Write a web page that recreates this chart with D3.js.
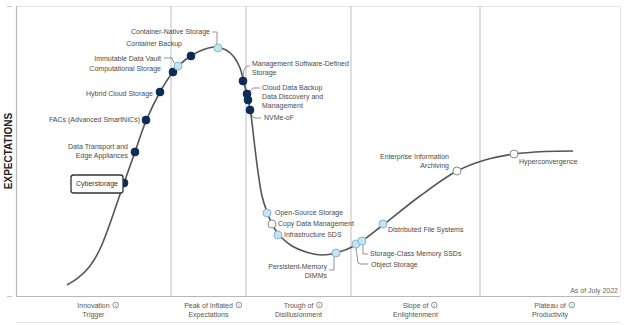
<!DOCTYPE html>
<html><head><meta charset="utf-8">
<script src="https://cdn.jsdelivr.net/npm/d3@7"></script>
<style>
html,body{margin:0;padding:0;background:#fff;}
svg{display:block;font-family:"Liberation Sans",Arial,sans-serif;}
</style>
</head><body>
<svg id="chart" width="631" height="325"></svg>
<script>
// ---------- DATA ----------
// Hype curve (time 0-100, expectations 0-100)
const curveX = [8.44,10.26,12.25,13.91,15.23,16.56,17.88,19.70,21.52,23.84,25.99,27.98,30.46,32.95,34.77,36.09,37.09,37.75,38.41,38.91,39.40,40.07,40.73,41.56,42.55,43.71,45.70,48.01,50.66,52.98,56.29,60.76,66.89,73.01,77.65,82.45,87.58,92.22];
const curveY = [3.79,6.21,10.34,16.21,23.10,31.03,38.97,49.66,60.34,70.34,77.24,81.38,84.48,85.86,84.83,82.41,78.62,73.45,67.93,62.41,53.79,42.76,34.48,28.97,24.14,20.69,17.24,15.17,14.14,14.83,17.59,24.48,34.48,43.10,46.90,48.97,49.83,50.00];

const techNames = ["Cyberstorage","Data Transport and Edge Appliances","FACs (Advanced SmartNICs)","Hybrid Cloud Storage","Computational Storage","Immutable Data Vault","Container Backup","Container-Native Storage","Management Software-Defined Storage","Cloud Data Backup","Data Discovery and Management","NVMe-oF","Open-Source Storage","Copy Data Management","Infrastructure SDS","Persistent-Memory DIMMs","Object Storage","Storage-Class Memory SSDs","Distributed File Systems","Enterprise Information Archiving","Hyperconvergence"];
const techX = [17.88,19.70,21.52,23.84,25.99,26.82,28.97,33.44,37.58,38.25,38.41,38.74,41.56,42.38,43.38,52.98,56.29,57.28,60.76,73.01,82.45];
const techY = [38.97,49.66,60.69,70.34,77.24,79.31,82.76,85.52,74.14,69.66,67.59,64.14,28.62,24.83,21.03,14.83,17.93,18.97,24.83,43.10,48.97];
// years to plateau: "<2" white, "2-5" light blue, "5-10" dark blue
const techPlateau = ["5-10","5-10","5-10","5-10","5-10","2-5","5-10","2-5","5-10","5-10","5-10","5-10","2-5","<2","2-5","2-5","2-5","2-5","2-5","<2","<2"];

const phaseNames = [["Innovation","Trigger"],["Peak of Inflated","Expectations"],["Trough of","Disillusionment"],["Slope of","Enlightenment"],["Plateau of","Productivity"]];
const phaseEnds = [25.66,38.08,55.46,76.82,100];

const yAxisTitle = "EXPECTATIONS";
const asOfText = "As of July 2022";

// ---------- LAYOUT / STYLE (kept separate from data) ----------
const W = 631, H = 325;
const plot = {left:16, right:620, top:6, bottom:296};
const fontSize = 7, lineH = 9;
const dotStyle = {
  "5-10": {fill:"#0c2b55", stroke:"#0c2b55", r:3.9},
  "2-5":  {fill:"#c5e3f1", stroke:"#86b7d1", r:4},
  "<2":   {fill:"#ffffff", stroke:"#8a8a8a", r:4}
};
const labelLayout = {
  "Cyberstorage": {anchor:"middle", dx:-27, dy:3.5, lines:["Cyberstorage"], box:[-53,-8,52,18]},
  "Data Transport and Edge Appliances": {anchor:"end", dx:-7, dy:-2.5, lines:["Data Transport and","Edge Appliances"]},
  "FACs (Advanced SmartNICs)": {anchor:"end", dx:-6, dy:2.5},
  "Hybrid Cloud Storage": {anchor:"end", dx:-7, dy:3.5},
  "Computational Storage": {anchor:"end", dx:-12, dy:-1.5},
  "Immutable Data Vault": {anchor:"end", dx:-17, dy:-5.5, leader:[[-14,-8],[-6,-8],[-4,-3]]},
  "Container Backup": {anchor:"end", dx:-9, dy:-9.5},
  "Container-Native Storage": {anchor:"end", dx:-8, dy:-13.5, leader:[[-6,-16],[-1,-16],[-1,-4]]},
  "Management Software-Defined Storage": {anchor:"start", dx:9, dy:-14.5, lines:["Management Software-Defined","Storage"], leader:[[0,-4],[1,-11],[4,-15],[7,-15]]},
  "Cloud Data Backup": {anchor:"start", dx:15, dy:-3.5, leader:[[3,-3],[6,-6],[13,-6]]},
  "Data Discovery and Management": {anchor:"start", dx:14, dy:-0.5, lines:["Data Discovery and","Management"]},
  "NVMe-oF": {anchor:"start", dx:14, dy:10.5, leader:[[1,4],[4,8],[11,8]]},
  "Open-Source Storage": {anchor:"start", dx:8, dy:1.5},
  "Copy Data Management": {anchor:"start", dx:6, dy:2.5},
  "Infrastructure SDS": {anchor:"start", dx:6, dy:2},
  "Persistent-Memory DIMMs": {anchor:"end", dx:-9, dy:16, lines:["Persistent-Memory","DIMMs"], leader:[[-2,4],[-2,17],[-7,17]]},
  "Object Storage": {anchor:"start", dx:15, dy:22.5, leader:[[0,4],[2,19],[4,20],[12,20]]},
  "Storage-Class Memory SSDs": {anchor:"start", dx:8, dy:15.5, leader:[[1,4],[1,13],[6,13]]},
  "Distributed File Systems": {anchor:"start", dx:5, dy:8.5},
  "Enterprise Information Archiving": {anchor:"end", dx:-8, dy:-12.5, lines:["Enterprise Information","Archiving"]},
  "Hyperconvergence": {anchor:"start", dx:5, dy:10.5}
};

// ---------- DRAW ----------
const svg = d3.select("#chart");
const x = d3.scaleLinear().domain([0,100]).range([plot.left, plot.right]);
const y = d3.scaleLinear().domain([0,100]).range([plot.bottom, plot.top]);

// bottom phase strip
svg.append("line").attr("x1",plot.left).attr("x2",plot.right).attr("y1",322.5).attr("y2",322.5)
  .attr("stroke","#e4e4e4").attr("stroke-width",1);

// frame
svg.append("line").attr("x1",plot.left).attr("x2",plot.right).attr("y1",plot.top+0.5).attr("y2",plot.top+0.5)
  .attr("stroke","#e6e6e6").attr("stroke-width",1);
svg.append("line").attr("x1",plot.right+0.5).attr("x2",plot.right+0.5).attr("y1",plot.top).attr("y2",plot.bottom)
  .attr("stroke","#e6e6e6").attr("stroke-width",1);

// phase dividers
const phaseStarts = [0].concat(phaseEnds.slice(0,-1));
svg.append("g").selectAll("line").data(phaseEnds.slice(0,-1)).join("line")
  .attr("x1",d=>x(d)).attr("x2",d=>x(d)).attr("y1",plot.top).attr("y2",plot.bottom)
  .attr("stroke","#cdcdcd").attr("stroke-width",1.3);

// axes
svg.append("line").attr("x1",plot.left+0.5).attr("x2",plot.left+0.5).attr("y1",plot.top).attr("y2",plot.bottom)
  .attr("stroke","#b8b8b8").attr("stroke-width",1.2);
svg.append("line").attr("x1",plot.left).attr("x2",plot.right).attr("y1",plot.bottom+0.5).attr("y2",plot.bottom+0.5)
  .attr("stroke","#b8b8b8").attr("stroke-width",1.2);
[plot.top+0.5, plot.bottom+0.5].forEach(v=>{
  svg.append("line").attr("x1",7).attr("x2",12).attr("y1",v).attr("y2",v).attr("stroke","#c4c4c4").attr("stroke-width",1);
});

// y title
svg.append("text").attr("transform",`translate(12,${(plot.top+plot.bottom)/2}) rotate(-90)`)
  .attr("text-anchor","middle").attr("font-size",10).attr("font-weight","bold").attr("fill","#222")
  .text(yAxisTitle);

// phase labels
phaseNames.forEach((lines,i)=>{
  const cx = (x(phaseStarts[i]) + x(phaseEnds[i]))/2;
  const g = svg.append("g");
  const t1 = g.append("text").attr("x",cx).attr("y",307.5).attr("text-anchor","middle")
    .attr("font-size",fontSize).attr("fill","#555").text(lines[0]);
  g.append("text").attr("x",cx).attr("y",316.5).attr("text-anchor","middle")
    .attr("font-size",fontSize).attr("fill","#555").text(lines[1]);
  const w = t1.node().getComputedTextLength();
  const ix = cx + w/2 + 6;
  g.append("circle").attr("cx",ix).attr("cy",305).attr("r",2.8).attr("fill","none").attr("stroke","#666").attr("stroke-width",0.7);
  g.append("text").attr("x",ix).attr("y",306.8).attr("text-anchor","middle").attr("font-size",4.5).attr("fill","#666").text("i");
});

// as-of note
svg.append("text").attr("x",618).attr("y",292.5).attr("text-anchor","end")
  .attr("font-size",fontSize).attr("fill","#666").text(asOfText);

// hype curve
const pts = curveX.map((v,i)=>[v,curveY[i]]);
svg.append("path").datum(pts)
  .attr("d", d3.line().x(d=>x(d[0])).y(d=>y(d[1])).curve(d3.curveCatmullRom.alpha(0.5)))
  .attr("fill","none").attr("stroke","#555").attr("stroke-width",1.6);

// leaders
const techPx = techNames.map((n,i)=>[x(techX[i]), y(techY[i])]);
techNames.forEach((n,i)=>{
  const L = labelLayout[n];
  if (!L.leader) return;
  const [cx,cy] = techPx[i];
  svg.append("path").attr("d", d3.line()(L.leader.map(p=>[cx+p[0], cy+p[1]])))
    .attr("fill","none").attr("stroke","#777").attr("stroke-width",0.8);
});

// dots
svg.append("g").selectAll("circle").data(techNames).join("circle")
  .attr("cx",(d,i)=>x(techX[i])).attr("cy",(d,i)=>y(techY[i]))
  .attr("r",(d,i)=>dotStyle[techPlateau[i]].r)
  .attr("fill",(d,i)=>dotStyle[techPlateau[i]].fill)
  .attr("stroke",(d,i)=>dotStyle[techPlateau[i]].stroke)
  .attr("stroke-width",1);

// labels
techNames.forEach((n,i)=>{
  const L = labelLayout[n];
  const [cx,cy] = techPx[i];
  const lines = L.lines || [n];
  if (L.box) {
    svg.append("rect").attr("x",cx+L.box[0]).attr("y",cy+L.box[1]).attr("width",L.box[2]).attr("height",L.box[3])
      .attr("rx",2.5).attr("fill","#fff").attr("stroke","#333").attr("stroke-width",1.3);
  }
  const t = svg.append("text").attr("text-anchor",L.anchor).attr("font-size",fontSize)
    .attr("fill", L.box ? "#333" : "#4a4a4a");
  lines.forEach((ln,k)=>{
    t.append("tspan").attr("x",cx+L.dx).attr("y",cy+L.dy+k*lineH).text(ln);
  });
});
</script>
</body></html>
